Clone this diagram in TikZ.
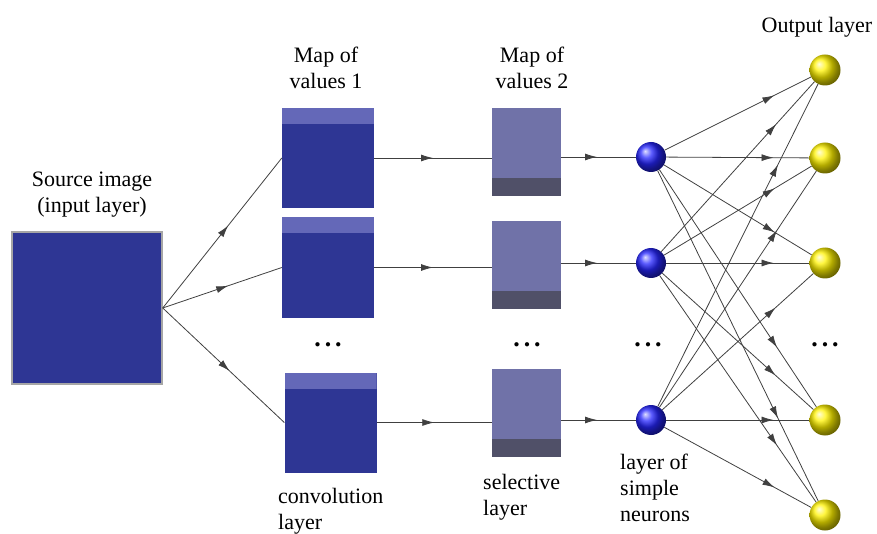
\documentclass[tikz,border=0pt]{standalone}
\usepackage{fontspec}
\setmainfont{Liberation Serif}
\newfontfamily\serifschrift{Liberation Serif}
\usepackage{tikz}
\usetikzlibrary{arrows,arrows.meta,calc,decorations.markings,positioning}
\definecolor{mapdark}{RGB}{46,54,148}
\definecolor{maplight}{RGB}{100,104,184}
\definecolor{selfill}{RGB}{112,114,168}
\definecolor{selband}{RGB}{80,80,104}
\tikzset{
  verbindung/.style={draw=black!75,line width=0.8pt,postaction={decorate},
    decoration={markings,mark=at position #1 with {\arrow{Latex[length=12pt,width=7pt]}}}},
  verbindung/.default=0.5,
  quelle/.style={rectangle,fill=mapdark,draw=gray!70,line width=1.5pt,minimum width=150pt,minimum height=152pt,inner sep=0pt},
  faltung/.style={rectangle,fill=mapdark,minimum width=92pt,minimum height=100pt,inner sep=0pt,
    path picture={\fill[maplight] (path picture bounding box.north west) rectangle ([yshift=-16pt]path picture bounding box.north east);}},
  auswahl/.style={rectangle,fill=selfill,minimum width=69pt,minimum height=88pt,inner sep=0pt,
    path picture={\fill[selband] (path picture bounding box.south west) rectangle ([yshift=18pt]path picture bounding box.south east);}},
  neuron/.style={circle,shading=ball,ball color=blue!85!white,minimum size=30pt,inner sep=0pt},
  ausgang/.style={circle,shading=ball,ball color=yellow!90!orange,minimum size=31pt,inner sep=0pt},
  beschriftung/.style={font=\serifschrift\fontsize{22}{26}\selectfont,inner sep=0pt},
  punkte/.style={font=\fontsize{11}{11}\selectfont,inner sep=0pt}
}
\begin{document}
\begin{tikzpicture}[x=1pt,y=-1pt]
\useasboundingbox (0,0) rectangle (877,534);
%Eingabe
\node[quelle] (src) at (87,308) {};
\node[beschriftung,align=center] (lblsrc) at (92,195) {Source image\\(input layer)};
%Faltungsschicht und Auswahlschicht
\node[faltung] (conv1) at (328,158) {};
\node[faltung] (conv2) at (328,267.5) {};
\node[faltung] (conv3) at (330.5,422.5) {};
\node[auswahl] (sel1) at (526.5,152) {};
\node[auswahl] (sel2) at (526.5,265) {};
\node[auswahl] (sel3) at (526.5,413) {};
\node[beschriftung,align=center] (lblmap1) at (326,68) {Map of\\values 1};
\node[beschriftung,align=center] (lblmap2) at (532,68) {Map of\\values 2};
\node[beschriftung,align=left,anchor=west] (lblconv) at (278,511) {convolution\\layer};
\node[beschriftung,align=left,anchor=west] (lblsel) at (483,497) {selective\\layer};
%Neuronen
\node[neuron] (n1) at (651,157) {};
\node[neuron] (n2) at (651,263) {};
\node[neuron] (n3) at (651,420) {};
\foreach \j/\y in {1/70,2/158,3/263,4/420,5/515}{
  \node[ausgang] (o\j) at (825,\y) {};
}
\node[beschriftung,align=left,anchor=west] (lblneur) at (620,488) {layer of\\simple\\neurons};
\node[beschriftung] (lblout) at (817,27) {Output layer};
%Punkte
\node[punkte] (dconv) at (328,345) {${\bullet}\mkern8mu{\bullet}\mkern8mu{\bullet}$};
\node[punkte] (dsel) at (527,345) {${\bullet}\mkern8mu{\bullet}\mkern8mu{\bullet}$};
\node[punkte] (dneur) at (648,345) {${\bullet}\mkern8mu{\bullet}\mkern8mu{\bullet}$};
\node[punkte] (dout) at (825,345) {${\bullet}\mkern8mu{\bullet}\mkern8mu{\bullet}$};
%Verbindungen
\foreach \i in {1,2,3}{
  \draw[verbindung=0.55] (src.east) -- (conv\i.west);
  \draw[verbindung] (conv\i.east) -- (conv\i.east -| sel\i.west);
  \draw[verbindung=0.48] (sel\i.east |- n\i) -- (n\i);
  \foreach \j in {1,...,5}{
    \draw[verbindung=0.75] (n\i) -- (o\j);
  }
}
\end{tikzpicture}
\end{document}
